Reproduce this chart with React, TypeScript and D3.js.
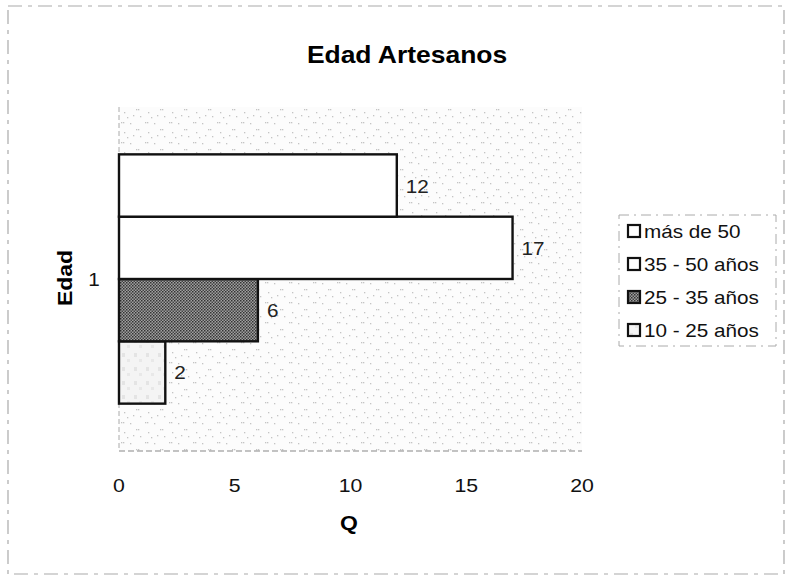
import React, { useRef, useEffect } from 'react';
import * as d3 from 'd3';

const categories = ['1'];
const seriesNames = ['10 - 25 años', '25 - 35 años', '35 - 50 años', 'más de 50'];
const seriesValues = [2, 6, 17, 12];
const xTicks = [0, 5, 10, 15, 20];

const fills = ['url(#lightFill)', 'url(#darkFill)', '#ffffff', '#ffffff'];

// the scanned chart is a little wider than a normal Arial
const STRETCH = 1.15;

const App = () => {
  const ref = useRef<SVGSVGElement>(null);

  useEffect(() => {
    const svg = d3.select(ref.current);
    svg.selectAll('*').remove();
    const width = 787;
    const height = 578;
    const font = '"Liberation Sans", Arial, sans-serif';

    const defs = svg.append('defs');
    // dotted plot background
    const bg = defs.append('pattern').attr('id', 'bgDots')
      .attr('width', 24).attr('height', 20).attr('patternUnits', 'userSpaceOnUse');
    bg.append('rect').attr('width', 24).attr('height', 20).attr('fill', '#fcfcfc');
    const dots = [[1, 2], [3, 2], [10, 3], [16, 9], [18, 9], [4, 12], [13, 15], [20, 16], [7, 17]];
    dots.forEach(([dx, dy]) => {
      bg.append('rect').attr('x', dx).attr('y', dy).attr('width', 1.3).attr('height', 1.3).attr('fill', '#c4c4c4');
    });
    // dark stipple
    const dk = defs.append('pattern').attr('id', 'darkFill')
      .attr('width', 3).attr('height', 3).attr('patternUnits', 'userSpaceOnUse');
    dk.append('rect').attr('width', 3).attr('height', 3).attr('fill', '#a0a0a0');
    dk.append('rect').attr('width', 1.5).attr('height', 1.5).attr('fill', '#333');
    dk.append('rect').attr('x', 1.5).attr('y', 1.5).attr('width', 1.5).attr('height', 1.5).attr('fill', '#444');
    // light blotchy
    const lt = defs.append('pattern').attr('id', 'lightFill')
      .attr('width', 12).attr('height', 14).attr('patternUnits', 'userSpaceOnUse');
    lt.append('rect').attr('width', 12).attr('height', 14).attr('fill', '#f4f4f4');
    lt.append('rect').attr('x', 2).attr('y', 3).attr('width', 3).attr('height', 4).attr('fill', '#e4e4e4');
    lt.append('rect').attr('x', 7).attr('y', 9).attr('width', 3).attr('height', 3).attr('fill', '#e8e8e8');

    svg.append('rect').attr('width', width).attr('height', height).attr('fill', '#fff');
    // outer dashed border
    svg.append('rect').attr('x', 8).attr('y', 6).attr('width', 776).attr('height', 568)
      .attr('fill', 'none').attr('stroke', '#aaa').attr('stroke-width', 1.2)
      .attr('stroke-dasharray', '14 6 4 6');

    const plot = { left: 119, right: 582, top: 107, bottom: 451 };

    const x = d3.scaleLinear().domain([0, 20]).range([plot.left, plot.right]);
    const y0 = d3.scaleBand().domain(categories).range([plot.top, plot.bottom])
      .paddingInner(0).paddingOuter(0.19);
    const y1 = d3.scaleBand().domain(seriesNames)
      .range([y0('1')! + y0.bandwidth(), y0('1')!]);

    svg.append('rect').attr('x', plot.left).attr('y', plot.top)
      .attr('width', plot.right - plot.left).attr('height', plot.bottom - plot.top)
      .attr('fill', 'url(#bgDots)');

    // axes
    svg.append('line').attr('x1', plot.left).attr('x2', plot.right)
      .attr('y1', plot.bottom).attr('y2', plot.bottom)
      .attr('stroke', '#888').attr('stroke-dasharray', '6 3');
    svg.append('line').attr('x1', plot.left).attr('x2', plot.left)
      .attr('y1', plot.top).attr('y2', plot.bottom)
      .attr('stroke', '#aaa').attr('stroke-dasharray', '5 3');

    const data = seriesNames.map((n, i) => ({ name: n, value: seriesValues[i], fill: fills[i] }));

    svg.selectAll('.bar').data(data).enter().append('rect')
      .attr('class', 'bar')
      .attr('x', x(0))
      .attr('y', d => y1(d.name)!)
      .attr('width', d => x(d.value) - x(0))
      .attr('height', y1.bandwidth())
      .attr('fill', d => d.fill)
      .attr('stroke', '#111').attr('stroke-width', 2.4);

    const place = (px: number, py: number) => `translate(${px},${py}) scale(${STRETCH},1)`;

    svg.selectAll('.val').data(data).enter().append('text')
      .attr('transform', d => place(x(d.value) + 9, y1(d.name)! + y1.bandwidth() / 2 + 7))
      .attr('font-family', font).attr('font-size', 18).attr('fill', '#222')
      .text(d => d.value);

    // x tick labels
    svg.selectAll('.xt').data(xTicks).enter().append('text')
      .attr('transform', d => place(x(d), 492))
      .attr('text-anchor', 'middle')
      .attr('font-family', font).attr('font-size', 18.5).attr('fill', '#111')
      .text(d => d);

    // category label
    svg.selectAll('.cat').data(categories).enter().append('text')
      .attr('transform', d => place(94, y0(d)! + y0.bandwidth() / 2 + 7))
      .attr('text-anchor', 'middle')
      .attr('font-family', font).attr('font-size', 18).attr('fill', '#111')
      .text(d => d);

    svg.append('text').attr('transform', place(407, 63)).attr('text-anchor', 'middle')
      .attr('font-family', font).attr('font-size', 23).attr('font-weight', 'bold')
      .text('Edad Artesanos');
    svg.append('text').attr('transform', place(349, 530)).attr('text-anchor', 'middle')
      .attr('font-family', font).attr('font-size', 20).attr('font-weight', 'bold')
      .text('Q');
    svg.append('text').attr('transform', `translate(72,278) rotate(-90) scale(${STRETCH},1)`)
      .attr('text-anchor', 'middle')
      .attr('font-family', font).attr('font-size', 20).attr('font-weight', 'bold')
      .text('Edad');

    // legend
    const lg = svg.append('g');
    lg.append('rect').attr('x', 619).attr('y', 215).attr('width', 157).attr('height', 131)
      .attr('fill', '#fff').attr('stroke', '#aaa').attr('stroke-dasharray', '10 5 2 5');
    const legendData = data.slice().reverse();
    const ly = d3.scaleBand().domain(legendData.map(d => d.name)).range([214.5, 346.5]);
    const items = lg.selectAll('.li').data(legendData).enter().append('g')
      .attr('transform', d => `translate(628,${ly(d.name)! + ly.bandwidth() / 2})`);
    items.append('rect').attr('x', 0).attr('y', -6).attr('width', 12).attr('height', 12)
      .attr('fill', d => d.fill === '#ffffff' ? '#fff' : d.fill)
      .attr('stroke', '#111').attr('stroke-width', 2.2);
    items.append('text').attr('transform', place(16, 7))
      .attr('font-family', font).attr('font-size', 18).attr('fill', '#111')
      .text(d => d.name);
  }, []);

  return (
    <svg ref={ref} width={787} height={578} style={{ position: 'absolute', left: 0, top: 0 }} />
  );
};

export default App;
